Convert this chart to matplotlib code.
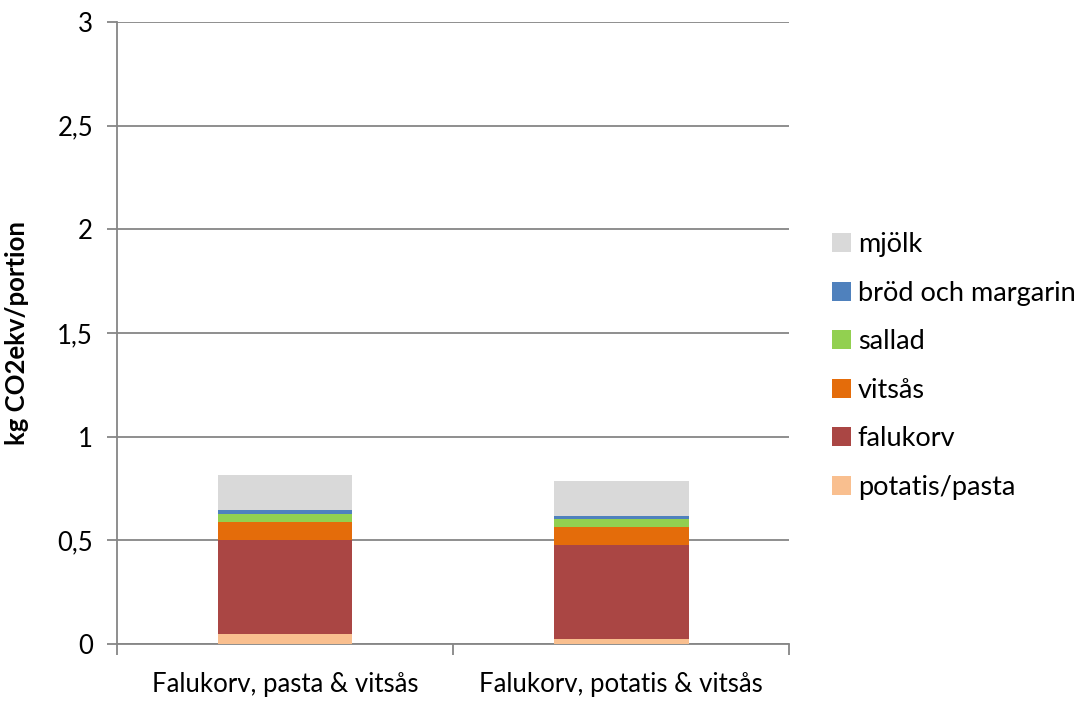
import numpy as np
from matplotlib import pyplot as plt

plt.rcParams['font.family'] = ['Lato', 'DejaVu Sans']

categories = ["Falukorv, pasta & vitsås", "Falukorv, potatis & vitsås"]
series_names = ["potatis/pasta", "falukorv", "vitsås", "sallad", "bröd och margarin", "mjölk"]
potatis_pasta = [0.048, 0.023]
falukorv = [0.456, 0.454]
vitsas = [0.085, 0.085]
sallad = [0.040, 0.040]
brod_margarin = [0.015, 0.015]
mjolk = [0.169, 0.170]
colors = ["#f9bf8f", "#aa4644", "#e46c0a", "#92d050", "#4f81bd", "#d9d9d9"]

values = [potatis_pasta, falukorv, vitsas, sallad, brod_margarin, mjolk]

fig = plt.figure(figsize=(10.8, 7.01), dpi=100)
ax = fig.add_axes([0.108, 0.0813, 0.623, 0.8873])

x = np.arange(len(categories))
bottom = np.zeros(len(categories))
for name, vals, c in zip(series_names, values, colors):
    ax.bar(x, vals, 0.4, bottom=bottom, color=c, label=name, zorder=3)
    bottom = bottom + np.array(vals)

fs = 18.5
ax.set_xlim(-0.5, 1.5)
ax.set_ylim(0, 3)
ax.set_yticks(np.arange(0, 3.01, 0.5))
ax.set_yticklabels(["0", "0,5", "1", "1,5", "2", "2,5", "3"], fontsize=fs)
ax.set_xticks(x)
ax.set_xticklabels(categories, fontsize=fs)
ax.set_xticks([-0.5, 0.5, 1.5], minor=True)
ax.tick_params(axis='x', which='major', length=0, pad=20)
ax.tick_params(axis='x', which='minor', length=8, color='#868686', width=1.3)
ax.tick_params(axis='y', length=7, color='#868686', width=1.3, pad=10)

ax.grid(axis='y', color='#868686', linewidth=1.3, zorder=0)
for s in ['top', 'right']:
    ax.spines[s].set_visible(False)
ax.spines['left'].set_color('#868686')
ax.spines['left'].set_linewidth(1.3)
ax.spines['bottom'].set_color('#868686')
ax.spines['bottom'].set_linewidth(1.3)

ax.set_ylabel("kg CO2ekv/portion", fontsize=fs, fontweight='bold')
ax.yaxis.set_label_coords(-0.13, 0.5)

handles, labels = ax.get_legend_handles_labels()
ax.legend(handles[::-1], labels[::-1], loc='center left', bbox_to_anchor=(1.027, 0.447),
          frameon=False, fontsize=19.5, handlelength=0.7, handleheight=0.7,
          handletextpad=0.25, labelspacing=0.87)

fig.savefig("out.png", dpi=100)
